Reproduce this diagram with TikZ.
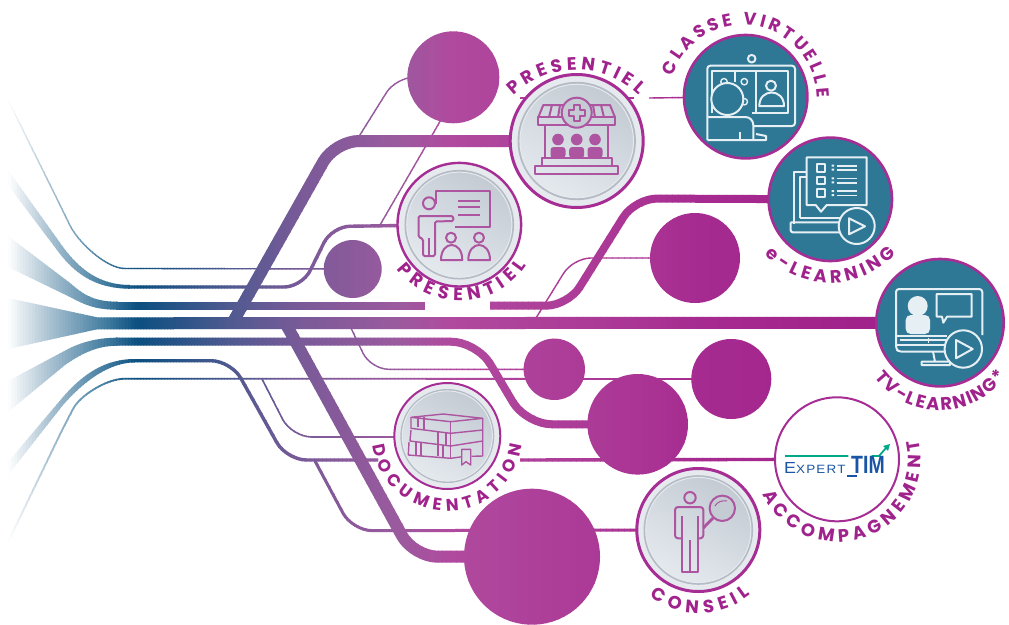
\documentclass[tikz,border=0pt]{standalone}
\usepackage{fontspec}
\usepackage{graphicx}
\usetikzlibrary{decorations.text,arrows.meta}
\newfontfamily\labf{Poppins}
\newfontfamily\logof{Liberation Sans}
\definecolor{gA}{HTML}{A9C1D1}
\definecolor{gB}{HTML}{4A82A4}
\definecolor{gC}{HTML}{0B4F80}
\definecolor{gD}{HTML}{4F5A90}
\definecolor{gE}{HTML}{7A5A98}
\definecolor{gF}{HTML}{9B5A9E}
\definecolor{gG}{HTML}{B04A9E}
\definecolor{gH}{HTML}{AA3494}
\definecolor{gI}{HTML}{A62B90}
\definecolor{gJ}{HTML}{A0228A}
\definecolor{rimc}{HTML}{E6EAEE}
\definecolor{ringc}{HTML}{B4BBC4}
\definecolor{discA}{HTML}{C4CBD3}
\definecolor{discB}{HTML}{E4E9EE}
\definecolor{tealc}{HTML}{2E7896}
\definecolor{edgec}{HTML}{A62D94}
\definecolor{txtc}{HTML}{A0228C}
\definecolor{icp}{HTML}{AD55A0}
\definecolor{icw}{HTML}{E6EFF3}
\definecolor{logog}{HTML}{00A88A}
\definecolor{logob}{HTML}{1A55A5}
\tikzset{
  x=1pt,y=-1pt,
  thin tube/.style={draw=stripc,line width=1.4,rounded corners=18},
  mid tube/.style={draw=stripc,line width=3.4,rounded corners=20},
  fat tube/.style={draw=stripc,line width=8,rounded corners=22},
  big tube/.style={draw=stripc,line width=12,rounded corners=24},
  pic line/.style={draw=icp,line width=2,line join=round},
  pic white/.style={draw=icw,line width=2,line join=round},
}
% ---- everything that carries the horizontal colour ramp
\newcommand{\flowshapes}{%
  % fans
  \fill[stripc] (8,298) -- (97,317.3) -- (97,329.3) -- (8,349) -- cycle;
  \fill[stripc] (8,236) -- (70,283) .. controls (85,296) and (95,301.7) .. (118,301.7) -- (118,309.7) .. controls (95,309.7) and (85,305) .. (70,297) -- (8,267) -- cycle;
  \fill[stripc] (8,381) -- (70,348) .. controls (85,341) and (100,337.7) .. (118,337.7) -- (118,345.7) .. controls (100,345.7) and (85,351) .. (65,365) -- (8,412) -- cycle;
  \fill[stripc] (8,170) -- (63,247) .. controls (80,270) and (100,285) .. (130,285) -- (130,288.7) .. controls (95,288.7) and (75,273) .. (60,254) -- (8,185) -- cycle;
  \fill[stripc] (8,462) -- (63,397) .. controls (83,374) and (105,359) .. (135,359) -- (135,362.4) .. controls (110,362.4) and (85,380) .. (63,405) -- (8,475) -- cycle;
  % thin outer lines
  \draw[thin tube] (8,100) -- (62,209) .. controls (78,242) and (106,268.5) .. (143,268.5) -- (cC2);
  \draw[thin tube,line width=1.8] (8,542) -- (65,424) .. controls (80,396) and (106,378.7) .. (143,378.7) -- (cC5);
  % trunk lines
  \draw[big tube] (96,323.3) -- (cT3);
  \draw[fat tube] (116,305.7) -- (425,305.7);
  \draw[fat tube] (490,305.7) -- (568,305.7) -- (635,198.5) -- (cT2);
  \draw[fat tube,rounded corners=26] (116,341.7) -- (477,341.7) -- (526,424.3) -- (cC6);
  \draw[mid tube,rounded corners=18] (128,287) -- (302,287) -- (332,226.5) -- (cG2);
  \draw[mid tube,rounded corners=20] (132,360.7) -- (231,360.7) -- (286.6,460) -- (378,460);
  \draw[mid tube] (520,460) -- (cEX);
  \draw[mid tube,line width=3] (315,461) -- (352.4,530.7) -- (cG4);
  % branches
  \draw[big tube] (233,322) -- (335,141) -- (cG1);
  \draw[big tube] (287,326) -- (413.5,556.7) -- (cC7);
  \draw[thin tube] (358,138) -- (396,77.3) -- (cC1);
  \draw[thin tube] (380,225) -- (442,118);
  \draw[thin tube] (536,318) -- (573,258) -- (cC3);
  \draw[thin tube] (351,328) -- (370.7,369.3) -- (cC4);
  \draw[thin tube,line width=1.6,rounded corners=20] (262,379) -- (291.7,437) -- (396,437);
  \draw[thin tube] (520,98) -- (634,98);
  \draw[thin tube] (649,98) -- (cT1);
  % plain discs
  \fill[stripc] (cC1) circle[radius=46];
  \fill[stripc] (cC2) circle[radius=29];
  \fill[stripc] (cC3) circle[radius=45];
  \fill[stripc] (cC4) circle[radius=30.7];
  \fill[stripc] (cC5) circle[radius=40];
  \fill[stripc] (cC6) circle[radius=50.3];
  \fill[stripc] (cC7) circle[radius=68];
}
\newcommand{\ramp}[6]{% x0,x1,strip,colA,colB,n
  \foreach \i in {1,...,#6}{%
    \pgfmathsetmacro\xl{#1+(\i-1)*#3}%
    \pgfmathsetmacro\xr{\xl+#3+0.6}%
    \pgfmathtruncatemacro\pc{100*(\i-0.5)/#6}%
    \colorlet{stripc}{#5!\pc!#4}%
    \begin{scope}
      \clip (\xl,-5) rectangle (\xr,630);
      \flowshapes
    \end{scope}
  }%
}
\newcommand{\greybadge}[5]{% name,x,y,r,border
  \node[circle,fill=rimc,draw=edgec,line width=#5,minimum size=#4*2pt-#5pt,inner sep=0pt] (#1) at (#2,#3) {};
  \fill[ringc] (#1.center) circle[radius=#4*0.87];
  \shade[shading=axis,top color=discA,bottom color=discB,shading angle=-30,draw=rimc,line width=1] (#1.center) circle[radius=#4*0.835];
}
\newcommand{\tealbadge}[4]{%
  \node[circle,fill=tealc,draw=edgec,line width=2.6,minimum size=#4*2pt-2.6pt,inner sep=0pt] (#1) at (#2,#3) {};
}
\newcommand{\arclab}[7]{% cx,cy,r,a,b,size,text
  \path[decorate,decoration={text along path,text align={fit to path},text color=txtc,
    text={|\labf\bfseries\fontsize{#6}{#6}\selectfont|#7}}]
    ({#1+#3*cos(#4)},{#2+#3*sin(#4)}) arc[start angle=#4,end angle=#5,radius=#3];
}
\newcommand{\pbody}[5]{% style,x1,x2,ybot,ytop
  \draw[#1] (#2,#4) .. controls (#2,#5) and (#3,#5) .. (#3,#4) -- cycle;
}
\begin{document}
\begin{tikzpicture}
\useasboundingbox (0,0) rectangle (1009,624);
\fill[white] (0,0) rectangle (1009,624);
% named centres
\coordinate (cC1) at (453.3,77.3);
\coordinate (cC2) at (352.7,269);
\coordinate (cC3) at (695,258);
\coordinate (cC4) at (554.3,369.3);
\coordinate (cC5) at (731.3,379);
\coordinate (cC6) at (637.7,424.3);
\coordinate (cC7) at (532,556.7);
\coordinate (cG1) at (576.7,141);
\coordinate (cG2) at (459.3,224.7);
\coordinate (cG3) at (447.3,436);
\coordinate (cG4) at (698.3,530);
\coordinate (cT1) at (745.7,96.7);
\coordinate (cT2) at (830.3,199.3);
\coordinate (cT3) at (940,322.7);
\coordinate (cEX) at (837,459.3);
% colour ramp
\ramp{8}{50}{3}{white}{gA}{14}
\ramp{50}{101}{3}{gA}{gB}{17}
\ramp{101}{137}{3}{gB}{gC}{12}
\ramp{137}{230}{3}{gC}{gD}{31}
\ramp{230}{302}{4}{gD}{gE}{18}
\ramp{302}{398}{4}{gE}{gF}{24}
\ramp{398}{450}{4}{gF}{gG}{13}
\ramp{450}{640}{6}{gG}{gH}{32}
\ramp{642}{702}{6}{gH}{gI}{10}
\ramp{702}{862}{8}{gI}{gJ}{20}
\ramp{862}{1012}{10}{gJ}{gJ}{15}
% badges
\greybadge{G1}{576.7}{141}{68}{3}
\greybadge{G2}{459.3}{224.7}{63}{2.4}
\greybadge{G3}{447.3}{436}{54}{2}
\greybadge{G4}{698.3}{530}{63}{3}
\tealbadge{T1}{745.7}{96.7}{63}
\tealbadge{T2}{830.3}{199.3}{63}
\tealbadge{T3}{940}{322.7}{65}
\node[circle,fill=white,draw=edgec,line width=2,minimum size=124pt,inner sep=0pt] (EX) at (837,459.3) {};
% ---- pharmacy icon
\draw[pic line] (535,165.7) rectangle (618.3,174);
\draw[pic line] (541.7,165.7) -- (541.7,158.3) -- (611.7,158.3) -- (611.7,165.7);
\draw[pic line] (545,158.3) -- (545,124.7) (608.3,158.3) -- (608.3,124.7);
\draw[pic line] (538.3,117.3) rectangle (615,124.7);
\draw[pic line] (538.3,117.3) -- (543.3,105) -- (610,105) -- (615,117.3);
\draw[pic line] (552,105) -- (549,117.3) (601,105) -- (604,117.3) (560,105)--(558,117.3) (593,105)--(595,117.3);
\draw[pic line,fill=discA] (576.7,112.7) circle[radius=15];
\draw[pic line,line width=1.6] (573.7,104.7) -- (579.7,104.7) -- (579.7,109.7) -- (584.7,109.7) -- (584.7,115.7) -- (579.7,115.7) -- (579.7,120.7) -- (573.7,120.7) -- (573.7,115.7) -- (568.7,115.7) -- (568.7,109.7) -- (573.7,109.7) -- cycle;
\foreach \px in {558,576.7,595}{
  \fill[icp] (\px,139.5) circle[radius=5.8];
  \fill[icp,rounded corners=3] (\px-7.5,158) -- (\px-7.5,147) -- (\px+7.5,147) -- (\px+7.5,158) -- cycle;
}
% ---- trainer icon
\draw[pic line] (436,204) -- (436,190.7) -- (490,190.7) -- (490,226.7) -- (455,226.7);
\draw[pic line] (458.3,200.7) -- (480,200.7) (458.3,207.3) -- (480,207.3) (458.3,215) -- (480,215);
\draw[pic line] (429,203.3) circle[radius=6];
\draw[pic line,rounded corners=1.5] (423,256) -- (423,239) -- (418.5,237) -- (418.5,216) -- (453,216) -- (453.5,221) -- (435,221.5) -- (435,256) -- cycle;
\draw[pic line] (429,256) -- (429,238);
\draw[pic line] (451,237.7) circle[radius=5];
\draw[pic line] (479,237.7) circle[radius=5];
\pbody{pic line}{441}{462.3}{260}{240}
\pbody{pic line}{468.3}{490}{260}{240}
% ---- books icon
\draw[pic line,line width=1.4] (411,417.3) -- (443.3,414) -- (482.7,418.3) -- (450.7,421.7) -- cycle;
\draw[pic line,line width=1.4] (411,417.3) -- (411,428.3) -- (450.7,433.3) -- (482.7,430) -- (482.7,418.3);
\draw[pic line,line width=1.4] (450.7,421.7) -- (450.7,458.3);
\draw[pic line,line width=1.4] (411,430) -- (410,441) -- (450.7,446) -- (482.7,441) (482.7,430) -- (482.7,456) -- (471.7,456.3);
\draw[pic line,line width=1.4] (409,442) -- (408.3,455) -- (450.7,458.3) -- (461.7,456.8);
\draw[pic line,line width=1.4] (418,418) -- (418,427) (424,417) -- (424,429.7) (416,441) -- (416,456) (421,442) -- (421,456) (438,431) -- (438,456) (443,445)--(443,457) (446,431.5)--(446,445);
\draw[pic line,line width=1.4] (461.7,449.3) -- (470.7,449.3) -- (470.7,465) -- (466,461.7) -- (461.7,465) -- cycle;
% ---- consultant icon
\draw[pic line] (690,497.7) circle[radius=5.7];
\draw[pic line,rounded corners=3] (681.7,538.3) -- (675,538.3) -- (675,507) -- (703.3,507) -- (703.3,538.3) -- (698.3,538.3);
\draw[pic line] (681.7,516) -- (681.7,572) -- (698.3,572) -- (698.3,516);
\draw[pic line] (690,540) -- (690,572);
\draw[pic line,line width=2.8] (713,518) -- (703.3,528);
\draw[pic line,fill=discA] (722.3,508.3) circle[radius=12.7];
\draw[pic line,line width=1] (715,506) .. controls (717,502) and (722,500) .. (727,501);
% ---- classe virtuelle icon
\draw[pic white] (751.7,58.7) circle[radius=3.8];
\draw[pic white,rounded corners=3] (707.3,140) -- (707.3,65.7) -- (795,65.7) -- (795,126) -- (753.3,126);
\draw[pic white] (712.3,113) -- (712.3,71) -- (788.3,71) -- (788.3,113.3) -- (752,113.3);
\draw[pic white] (735,71) -- (735,82) (755.7,71) -- (755.7,113.3);
\draw[pic white] (771,85.7) circle[radius=5];
\pbody{pic white}{759.3}{784}{106}{88}
\draw[pic white,line width=1.4] (724,81.7) circle[radius=3.2] (744.3,81.7) circle[radius=3.2] (744.3,101.7) circle[radius=3.2];
\draw[pic white,fill=tealc] (727.3,99) circle[radius=16];
\draw[pic white,rounded corners=8] (753.3,140) -- (753.3,117) -- (707.3,117);
\draw[pic white] (707.3,140) -- (766,140) -- (766,136) -- (756,134);
\draw[pic white] (740,140) -- (740,132);
% ---- e-learning icon
\draw[pic white] (794,224) -- (794,171.7) -- (806.7,171.7) (800,218.3) -- (800,176.7) -- (806.7,176.7) (800,218.3) -- (842,218.3);
\draw[pic white,rounded corners=2] (790.7,222.3) -- (790.7,232.3) -- (840,232.3) (790.7,222.3) -- (840,222.3);
\draw[pic white] (806.7,157.3) -- (866.7,157.3) -- (866.7,205) -- (826.7,205) -- (821,211.7) -- (815.7,205) -- (806.7,205) -- cycle;
\foreach \py/\pa in {164/165.7,176.7/178.3,189.3/191}{
  \draw[pic white] (816.7,\py) rectangle ++(8,7.6);
  \fill[icw] (831.5,\pa-1) rectangle ++(2.5,2) (831.5,\pa+3) rectangle ++(2.5,2);
  \draw[pic white,line width=1.6] (836.7,\pa) -- (856.7,\pa) (836.7,\pa+4.5) -- (856.7,\pa+4.5);
}
\draw[pic white,fill=tealc] (856.7,226) circle[radius=18];
\draw[pic white] (849,218.3) -- (865,226.3) -- (849,234.3) -- cycle;
% ---- tv-learning icon
\draw[pic white,rounded corners=3] (946,351.7) -- (899,351.7) -- (896,349) -- (896,289) -- (982.3,289) -- (982.3,335);
\draw[pic white] (896.7,335.7) -- (946.7,335.7) (896.7,345) -- (946,345);
\fill[icw] (917.7,306) circle[radius=10];
\fill[icw,rounded corners=5] (905.7,334) -- (905.7,315) -- (930,315) -- (930,334) -- cycle;
\draw[pic white] (936.7,294) -- (971.7,294) -- (971.7,316.7) -- (947,316.7) -- (943.3,322.7) -- (942,316.7) -- (936.7,316.7) -- cycle;
\draw[pic white,line width=1.4] (900,340) -- (946,340) (928.3,337.5) -- (928.3,342.5);
\draw[pic white] (933,351.7) -- (935,361.7) (921.7,361.7) rectangle (950,365);
\draw[pic white,fill=tealc] (963.3,349) circle[radius=18.7];
\draw[pic white] (956,340) -- (972.7,349) -- (956,358.3) -- cycle;
% ---- logo
\draw[logog,line width=1.8] (785,456) -- (848.3,456) (871.7,456) -- (879,456) -- (886,448);
\fill[logog] (890,444) -- (883,446) -- (888,451) -- cycle;
\node[anchor=base west,inner sep=0pt,text=logob] (logoE) at (784,473.5) {\scalebox{1.12}[1]{\logof\fontsize{16}{16}\selectfont E\fontsize{12}{12}\selectfont\addfontfeature{LetterSpace=9}XPERT}};
\node[anchor=base west,inner sep=0pt,text=logob] (logoT) at (851,473.5) {\scalebox{0.78}[1]{\logof\bfseries\fontsize{25}{25}\selectfont TIM}};
\fill[logob] (846.7,475) rectangle (856.7,476.8);
% ---- labels
\arclab{576}{160}{90}{226}{314}{18}{PRESENTIEL}
\arclab{460}{222}{79}{143}{33}{18}{PRESENTIEL}
\arclab{743}{99}{74}{198}{359}{17.5}{CLASSE VIRTUELLE}
\arclab{830}{194}{89}{137}{42}{18}{e-LEARNING}
\arclab{940}{328}{82}{143}{36}{18}{TV-LEARNING*}
\arclab{838}{459}{83}{155}{-13}{18}{ACCOMPAGNEMENT}
\arclab{447}{436}{75}{173}{7}{17}{DOCUMENTATION}
\arclab{699}{531}{82}{127}{51}{18}{CONSEIL}
\end{tikzpicture}
\end{document}
